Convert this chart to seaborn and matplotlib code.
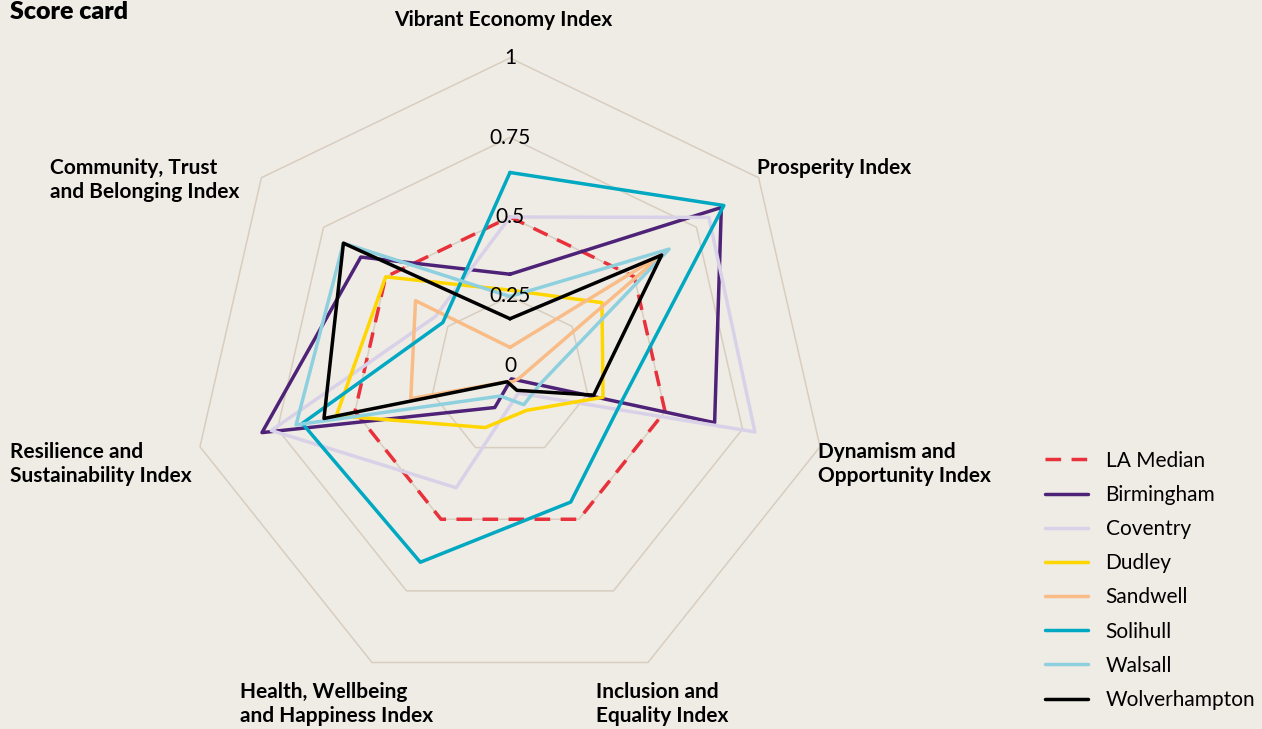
import numpy as np
import pandas as pd

import matplotlib
matplotlib.use("Agg")
import matplotlib.pyplot as plt
import seaborn as sns

# axes go clockwise from the top
categories = ["Vibrant Economy Index", "Prosperity Index",
              "Dynamism and\nOpportunity Index", "Inclusion and\nEquality Index",
              "Health, Wellbeing\nand Happiness Index",
              "Resilience and\nSustainability Index",
              "Community, Trust\nand Belonging Index"]

la_median = [0.50, 0.50, 0.50, 0.50, 0.50, 0.50, 0.50]
birmingham = [0.32, 0.85, 0.66, 0.01, 0.11, 0.80, 0.60]
coventry = [0.50, 0.80, 0.79, 0.06, 0.39, 0.77, 0.30]
dudley = [0.27, 0.37, 0.30, 0.12, 0.18, 0.56, 0.50]
sandwell = [0.09, 0.62, 0.03, 0.02, 0.02, 0.32, 0.38]
solihull = [0.64, 0.86, 0.36, 0.44, 0.65, 0.67, 0.27]
walsall = [0.25, 0.64, 0.10, 0.10, 0.07, 0.69, 0.67]
wolverhampton = [0.18, 0.61, 0.27, 0.05, 0.02, 0.60, 0.67]

series_names = ["LA Median", "Birmingham", "Coventry", "Dudley", "Sandwell",
                "Solihull", "Walsall", "Wolverhampton"]
series_values = [la_median, birmingham, coventry, dudley, sandwell,
                 solihull, walsall, wolverhampton]
series_colors = ["#E8313B", "#4E2277", "#D9D1E7", "#FFD600", "#F9BC86",
                 "#00A8C1", "#8FD0DF", "#000000"]

grid_levels = [0.25, 0.5, 0.75, 1.0]
grid_labels = ["0.25", "0.5", "0.75", "1"]

BG = "#EFECE6"
GRID = "#D8CDBF"
W, H = 1262, 729

sns.set_style("white", {"axes.facecolor": BG, "figure.facecolor": BG})
plt.rcParams["font.family"] = ["Lato", "DejaVu Sans"]
plt.rcParams["text.color"] = "black"

fig = plt.figure(figsize=(W / 100, H / 100), dpi=100)
fig.patch.set_facecolor(BG)

# radar centre and radius in pixels
cx, cy, R = 510, 376, 318
ax = fig.add_axes([(cx - R) / W, (H - cy - R) / H, 2 * R / W, 2 * R / H],
                  projection="polar")
ax.set_theta_zero_location("N")
ax.set_theta_direction(-1)
ax.set_ylim(0, 1)
ax.set_facecolor("none")
ax.grid(False)
ax.set_xticks([])
ax.set_yticks([])
ax.spines["polar"].set_visible(False)

n = len(categories)
theta = np.linspace(0, 2 * np.pi, n, endpoint=False)
theta_closed = np.append(theta, theta[0] + 2 * np.pi)

# heptagon grid
for lvl in grid_levels:
    ax.plot(theta_closed, [lvl] * (n + 1), color=GRID, lw=1.1, zorder=0,
            clip_on=False)

for name, vals, col in zip(series_names, series_values, series_colors):
    df = pd.DataFrame({"theta": theta_closed, "value": vals + vals[:1]})
    ls = (0, (4.5, 3)) if name == "LA Median" else "-"
    sns.lineplot(data=df, x="theta", y="value", sort=False, estimator=None,
                 color=col, lw=2.5, linestyle=ls, ax=ax, label=name,
                 clip_on=False, zorder=3)
ax.set_xlabel("")
ax.set_ylabel("")

handles, labels = ax.get_legend_handles_labels()
ax.get_legend().remove()

# radial value labels along the top spoke
for lvl, lab in zip(grid_levels, grid_labels):
    ax.text(0, lvl, lab, ha="center", va="center", fontsize=15, zorder=5)
ax.text(0, 0.03, "0", ha="center", va="center", fontsize=15, zorder=5)

# category labels (pixel anchor, alignment)
label_pos = [(503, 20, "center"), (757, 168, "left"), (818, 464, "left"),
             (596, 704, "left"), (240, 704, "left"), (10, 464, "left"),
             (50, 180, "left")]
for txt, (px, py, ha) in zip(categories, label_pos):
    fig.text(px / W, 1 - py / H, txt, ha=ha, va="center", fontsize=15,
             fontweight="bold", linespacing=1.3)

fig.text(10 / W, 1 - 12 / H, "Score card", ha="left", va="center",
         fontsize=18, fontweight="heavy")

leg = fig.legend(handles, labels, loc="upper left",
                 bbox_to_anchor=(1026 / W, 1 - 432 / H), frameon=False,
                 fontsize=15, handlelength=2.06, handletextpad=0.86,
                 labelspacing=0.68)
for t in leg.get_texts():
    t.set_color("black")

fig.savefig("out.png", dpi=100, facecolor=BG)
